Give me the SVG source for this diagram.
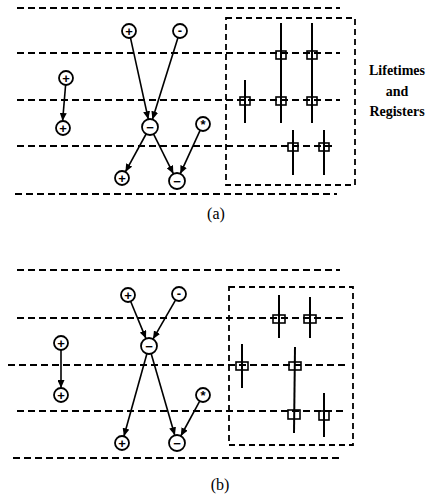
<svg xmlns="http://www.w3.org/2000/svg" width="427" height="494" viewBox="0 0 427 494">
<defs>
<marker id="ah" markerWidth="9" markerHeight="7" refX="8" refY="3.5" orient="auto" markerUnits="userSpaceOnUse"><path d="M0,0 L8,3.5 L0,7 z" fill="#000"/></marker>
<style>
.dash{stroke:#000;stroke-width:1.8;stroke-dasharray:7 4;fill:none}
.box{stroke:#000;stroke-width:1.8;stroke-dasharray:6 4;fill:none}
.nd{fill:#fff;stroke:#000;stroke-width:1.8}
.sym{font-family:"Liberation Sans",Arial,sans-serif;font-weight:bold;font-size:13px;text-anchor:middle;fill:#000}
.edge{stroke:#000;stroke-width:1.6;fill:none;marker-end:url(#ah)}
.life{stroke:#000;stroke-width:2}
.reg{fill:none;stroke:#000;stroke-width:1.6}
.lbl{font-family:"Liberation Serif","Times New Roman",serif;font-weight:bold;font-size:14px;text-anchor:middle;fill:#000}
.cap{font-family:"Liberation Serif","Times New Roman",serif;font-size:16px;text-anchor:middle;fill:#000}
</style>
</defs>
<rect width="427" height="494" fill="#fff"/>

<!-- Panel (a) -->
<g id="a-steps">
<line class="dash" x1="17" y1="8" x2="340" y2="8"/>
<line class="dash" x1="17" y1="53" x2="340" y2="53"/>
<line class="dash" x1="17" y1="100" x2="340" y2="100"/>
<line class="dash" x1="17" y1="146" x2="336" y2="146"/>
<line class="dash" x1="15" y1="194" x2="337" y2="194"/>
</g>
<g id="a-registers">
<rect class="box" x="226" y="18" width="129" height="167"/>
<line class="life" x1="281" y1="23" x2="281" y2="123"/>
<line class="life" x1="312" y1="23" x2="312" y2="123"/>
<line class="life" x1="245" y1="80" x2="245" y2="123"/>
<line class="life" x1="293" y1="130" x2="293" y2="175"/>
<line class="life" x1="324" y1="130" x2="324" y2="175"/>
<rect class="reg" x="276" y="51" width="10" height="8"/>
<rect class="reg" x="307" y="51" width="10" height="8"/>
<rect class="reg" x="240" y="97" width="10" height="8"/>
<rect class="reg" x="276" y="97" width="10" height="8"/>
<rect class="reg" x="307" y="97" width="10" height="8"/>
<rect class="reg" x="288" y="143" width="10" height="8"/>
<rect class="reg" x="319" y="143" width="10" height="8"/>
</g>
<g id="a-edges">
<line class="edge" x1="130.5" y1="37.8" x2="148.3" y2="119.2"/>
<line class="edge" x1="177.9" y1="37.7" x2="152.4" y2="119.4"/>
<line class="edge" x1="65.6" y1="85" x2="62.6" y2="121"/>
<line class="edge" x1="146.1" y1="134" x2="125.4" y2="171.9"/>
<line class="edge" x1="153.6" y1="134.2" x2="173.4" y2="173.8"/>
<line class="edge" x1="200.1" y1="130.4" x2="180.3" y2="173.7"/>
</g>
<g id="a-n1"><circle class="nd" cx="129" cy="31" r="7"/><text class="sym" x="129" y="35.5">+</text></g>
<g id="a-n2"><circle class="nd" cx="180" cy="31" r="7"/><text class="sym" x="180" y="35">-</text></g>
<g id="a-n3"><circle class="nd" cx="66" cy="78" r="7"/><text class="sym" x="66" y="82.5">+</text></g>
<g id="a-n4"><circle class="nd" cx="63" cy="128" r="7"/><text class="sym" x="63" y="132.5">+</text></g>
<g id="a-n5"><circle class="nd" cx="150" cy="127" r="8"/><text class="sym" x="150" y="131.5">−</text></g>
<g id="a-n6"><circle class="nd" cx="203" cy="124" r="7"/><text class="sym" x="203" y="129">*</text></g>
<g id="a-n7"><circle class="nd" cx="122" cy="178" r="7"/><text class="sym" x="122" y="182.5">+</text></g>
<g id="a-n8"><circle class="nd" cx="177" cy="181" r="8"/><text class="sym" x="177" y="185.5">−</text></g>
<g id="legend">
<text class="lbl" x="397" y="75">Lifetimes</text>
<text class="lbl" x="397" y="96">and</text>
<text class="lbl" x="397" y="116">Registers</text>
</g>
<text class="cap" x="216" y="219">(a)</text>

<!-- Panel (b) -->
<g id="b-steps">
<line class="dash" x1="17" y1="270" x2="340" y2="270"/>
<line class="dash" x1="17" y1="318" x2="345" y2="318"/>
<line class="dash" x1="8" y1="365" x2="345" y2="365"/>
<line class="dash" x1="17" y1="411" x2="347" y2="411"/>
<line class="dash" x1="13" y1="458" x2="343" y2="458"/>
</g>
<g id="b-registers">
<rect class="box" x="229" y="287" width="124" height="158"/>
<line class="life" x1="279" y1="295" x2="279" y2="338"/>
<line class="life" x1="310" y1="297" x2="310" y2="338"/>
<line class="life" x1="242" y1="344" x2="242" y2="388"/>
<line class="life" x1="295" y1="347" x2="294" y2="433"/>
<line class="life" x1="324" y1="393" x2="324" y2="437"/>
<rect class="reg" x="273" y="315" width="12" height="8"/>
<rect class="reg" x="304" y="315" width="12" height="8"/>
<rect class="reg" x="236" y="362" width="12" height="8"/>
<rect class="reg" x="289" y="362" width="12" height="8"/>
<rect class="reg" x="288" y="410" width="12" height="9"/>
<rect class="reg" x="319" y="411" width="10" height="9"/>
</g>
<g id="b-edges">
<line class="edge" x1="130.7" y1="301.5" x2="146" y2="338.6"/>
<line class="edge" x1="175.5" y1="300.1" x2="153" y2="339.1"/>
<line class="edge" x1="61" y1="350" x2="61" y2="388"/>
<line class="edge" x1="146.9" y1="353.7" x2="123.9" y2="436.3"/>
<line class="edge" x1="151.2" y1="353.7" x2="174.8" y2="435.3"/>
<line class="edge" x1="199.7" y1="401.2" x2="180.8" y2="436"/>
</g>
<g id="b-n1"><circle class="nd" cx="128" cy="295" r="7"/><text class="sym" x="128" y="299.5">+</text></g>
<g id="b-n2"><circle class="nd" cx="179" cy="294" r="7"/><text class="sym" x="179" y="298">-</text></g>
<g id="b-n3"><circle class="nd" cx="149" cy="346" r="8"/><text class="sym" x="149" y="350.5">−</text></g>
<g id="b-n4"><circle class="nd" cx="61" cy="343" r="7"/><text class="sym" x="61" y="347.5">+</text></g>
<g id="b-n5"><circle class="nd" cx="61" cy="395" r="7"/><text class="sym" x="61" y="399.5">+</text></g>
<g id="b-n6"><circle class="nd" cx="203" cy="395" r="7"/><text class="sym" x="203" y="400">*</text></g>
<g id="b-n7"><circle class="nd" cx="122" cy="443" r="7"/><text class="sym" x="122" y="447.5">+</text></g>
<g id="b-n8"><circle class="nd" cx="177" cy="443" r="8"/><text class="sym" x="177" y="447.5">−</text></g>
<text class="cap" x="220" y="490">(b)</text>
</svg>
